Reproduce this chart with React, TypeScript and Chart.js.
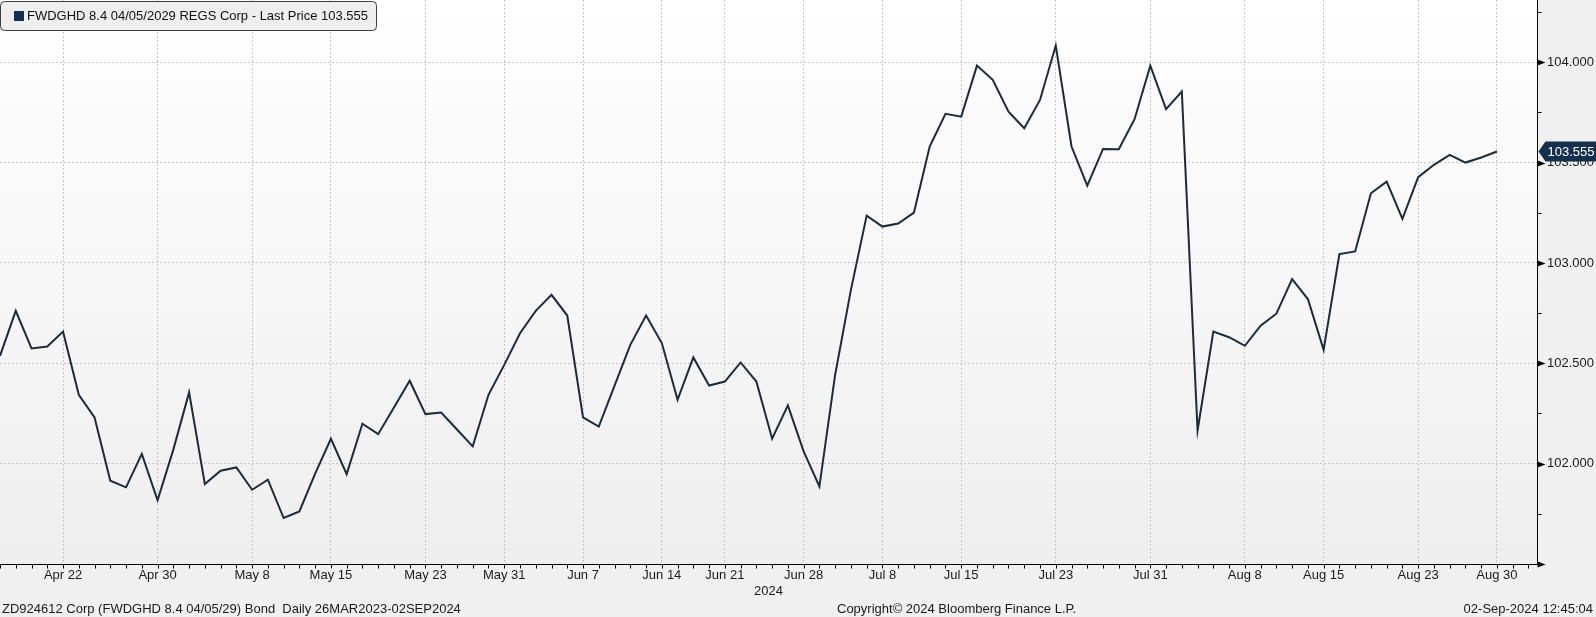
import React, { useEffect, useRef } from 'react';
import { Chart, registerables } from 'chart.js';

Chart.register(...registerables);

// ---- data ----
const dates = [
  'Apr 16', 'Apr 17', 'Apr 18', 'Apr 19', 'Apr 22', 'Apr 23', 'Apr 24', 'Apr 25', 'Apr 26', 'Apr 29', 'Apr 30',
  'May 1', 'May 2', 'May 3', 'May 6', 'May 7', 'May 8', 'May 9', 'May 10', 'May 13', 'May 14', 'May 15', 'May 16',
  'May 17', 'May 20', 'May 21', 'May 22', 'May 23', 'May 24', 'May 28', 'May 29', 'May 30', 'May 31',
  'Jun 3', 'Jun 4', 'Jun 5', 'Jun 6', 'Jun 7', 'Jun 10', 'Jun 11', 'Jun 12', 'Jun 13', 'Jun 14', 'Jun 17', 'Jun 18',
  'Jun 20', 'Jun 21', 'Jun 24', 'Jun 25', 'Jun 26', 'Jun 27', 'Jun 28',
  'Jul 1', 'Jul 2', 'Jul 3', 'Jul 5', 'Jul 8', 'Jul 9', 'Jul 10', 'Jul 11', 'Jul 12', 'Jul 15', 'Jul 16', 'Jul 17',
  'Jul 18', 'Jul 19', 'Jul 22', 'Jul 23', 'Jul 24', 'Jul 25', 'Jul 26', 'Jul 29', 'Jul 30', 'Jul 31',
  'Aug 1', 'Aug 2', 'Aug 5', 'Aug 6', 'Aug 7', 'Aug 8', 'Aug 9', 'Aug 12', 'Aug 13', 'Aug 14', 'Aug 15', 'Aug 16',
  'Aug 19', 'Aug 20', 'Aug 21', 'Aug 22', 'Aug 23', 'Aug 26', 'Aug 27', 'Aug 28', 'Aug 29', 'Aug 30',
];

const prices = [
  102.537, 102.761, 102.574, 102.584, 102.658, 102.343, 102.230, 101.915, 101.882, 102.049, 101.817,
  102.070, 102.355, 101.898, 101.965, 101.981, 101.870, 101.920, 101.729, 101.762, 101.950, 102.124, 101.948,
  102.199, 102.147, 102.280, 102.413, 102.247, 102.255, 102.170, 102.086, 102.343, 102.492,
  102.650, 102.761, 102.841, 102.738, 102.230, 102.185, 102.389, 102.592, 102.738, 102.601, 102.318, 102.529,
  102.389, 102.409, 102.504, 102.409, 102.124, 102.290, 102.061,
  101.886, 102.443, 102.866, 103.236, 103.181, 103.196, 103.251, 103.580, 103.743, 103.729, 103.983, 103.912,
  103.754, 103.671, 103.812, 104.083, 103.580, 103.385, 103.568, 103.567, 103.716, 103.983,
  103.766, 103.854, 102.165, 102.658, 102.630, 102.587, 102.687, 102.747, 102.919, 102.820, 102.567, 103.044,
  103.057, 103.347, 103.405, 103.220, 103.427, 103.489, 103.538, 103.500, 103.525, 103.555,
];

const xTickLabels = [
  'Apr 22', 'Apr 30', 'May 8', 'May 15', 'May 23', 'May 31', 'Jun 7', 'Jun 14', 'Jun 21',
  'Jun 28', 'Jul 8', 'Jul 15', 'Jul 23', 'Jul 31', 'Aug 8', 'Aug 15', 'Aug 23', 'Aug 30',
];
const yTickValues = [102, 102.5, 103, 103.5, 104];
const yMinorStep = 0.25;
const yMin = 101.5;
const yMax = 104.31;
const xPadAfter = 2.54; // empty trading days to the axis end (through 02SEP2024)

const seriesTitle = 'FWDGHD 8.4 04/05/2029 REGS Corp';
const yearLabel = '2024';
const footerLeft = 'ZD924612 Corp (FWDGHD 8.4 04/05/29) Bond  Daily 26MAR2023-02SEP2024';
const footerCenter = 'Copyright\u00A9 2024 Bloomberg Finance L.P.';
const footerRight = '02-Sep-2024 12:45:04';

const FONT = '"Liberation Sans", Arial, sans-serif';
const LINE_COLOR = '#1b2b3c';
const TAG_COLOR = '#15304f';

const bbgPlugin = {
  id: 'bbg',
  beforeDraw(chart: any) {
    const { ctx, chartArea: a, width, height } = chart;
    ctx.save();
    ctx.fillStyle = '#f0f0f0';
    ctx.fillRect(0, 0, width, height);
    const g = ctx.createLinearGradient(0, a.top, 0, a.bottom);
    g.addColorStop(0, '#ffffff');
    g.addColorStop(1, '#eeeeee');
    ctx.fillStyle = g;
    ctx.fillRect(a.left, a.top, a.right - a.left, a.bottom - a.top);
    ctx.restore();
  },
  afterDraw(chart: any) {
    const { ctx, chartArea: a, width } = chart;
    const x = chart.scales.x;
    const y = chart.scales.y;
    ctx.save();
    const bx = Math.round(a.right) + 0.5;
    const by = Math.round(a.bottom) + 0.5;
    ctx.strokeStyle = '#000';
    ctx.lineWidth = 1;
    ctx.beginPath();
    ctx.moveTo(a.left, by);
    ctx.lineTo(bx, by);
    ctx.moveTo(bx, a.top);
    ctx.lineTo(bx, by);
    ctx.stroke();

    // daily tick marks on x axis
    ctx.beginPath();
    for (let i = 0; i <= Math.floor(x.max); i++) {
      const px = Math.round(x.getPixelForValue(i)) + 0.5;
      ctx.moveTo(px, by);
      ctx.lineTo(px, by + 4);
    }
    ctx.stroke();

    // y axis ticks: arrows at majors, small marks at minors
    ctx.fillStyle = '#000';
    const nSteps = Math.floor((yMax - yMin) / yMinorStep + 1e-9);
    for (let k = 0; k <= nSteps; k++) {
      const v = yMin + k * yMinorStep;
      const py = Math.round(y.getPixelForValue(v)) + 0.5;
      if (k % 2 === 0) {
        ctx.beginPath();
        ctx.moveTo(bx, py - 3);
        ctx.lineTo(bx + 8, py);
        ctx.lineTo(bx, py + 3);
        ctx.closePath();
        ctx.fill();
      } else {
        ctx.beginPath();
        ctx.moveTo(bx, py);
        ctx.lineTo(bx + 4, py);
        ctx.stroke();
      }
    }

    // last price tag
    const last = prices[prices.length - 1];
    const ty = y.getPixelForValue(last);
    ctx.fillStyle = TAG_COLOR;
    ctx.beginPath();
    ctx.moveTo(bx + 1, ty);
    ctx.lineTo(bx + 8, ty - 10);
    ctx.lineTo(width, ty - 10);
    ctx.lineTo(width, ty + 10);
    ctx.lineTo(bx + 8, ty + 10);
    ctx.closePath();
    ctx.fill();
    ctx.fillStyle = '#ffffff';
    ctx.font = `13px ${FONT}`;
    ctx.textBaseline = 'middle';
    ctx.textAlign = 'left';
    ctx.fillText(last.toFixed(3), bx + 10, ty + 0.5);

    // legend box
    const legendText = `${seriesTitle} - Last Price ${last.toFixed(3)}`;
    ctx.font = `13px ${FONT}`;
    const tw = ctx.measureText(legendText).width;
    const lx = 0.5, ly = 1.5, lw = 26 + tw + 9, lh = 29, r = 4;
    ctx.beginPath();
    ctx.moveTo(lx + r, ly);
    ctx.lineTo(lx + lw - r, ly);
    ctx.quadraticCurveTo(lx + lw, ly, lx + lw, ly + r);
    ctx.lineTo(lx + lw, ly + lh - r);
    ctx.quadraticCurveTo(lx + lw, ly + lh, lx + lw - r, ly + lh);
    ctx.lineTo(lx + r, ly + lh);
    ctx.quadraticCurveTo(lx, ly + lh, lx, ly + lh - r);
    ctx.lineTo(lx, ly + r);
    ctx.quadraticCurveTo(lx, ly, lx + r, ly);
    ctx.closePath();
    ctx.fillStyle = '#eeeeee';
    ctx.fill();
    ctx.strokeStyle = '#3c3c3c';
    ctx.stroke();
    ctx.fillStyle = TAG_COLOR;
    ctx.fillRect(14, 11, 10, 10);
    ctx.fillStyle = '#111111';
    ctx.fillText(legendText, 27, 16.5);

    // year label + footer
    ctx.fillStyle = '#1a1a1a';
    ctx.textAlign = 'center';
    ctx.fillText(yearLabel, (a.left + a.right) / 2, 591);
    ctx.textAlign = 'left';
    ctx.fillText(footerLeft, 2, 609);
    ctx.fillText(footerCenter, 837, 609);
    ctx.textAlign = 'right';
    ctx.fillText(footerRight, 1593, 609);
    ctx.restore();
  },
};

export default function App() {
  const canvasRef = useRef<HTMLCanvasElement | null>(null);

  useEffect(() => {
    document.body.style.margin = '0';
    const canvas = canvasRef.current;
    if (!canvas) return;
    Chart.defaults.font.family = FONT;
    Chart.defaults.font.size = 13;
    Chart.defaults.color = '#1a1a1a';

    const chart = new Chart(canvas, {
      type: 'line',
      data: {
        datasets: [
          {
            label: seriesTitle,
            data: prices.map((p, i) => ({ x: i, y: p })),
            borderColor: LINE_COLOR,
            borderWidth: 2,
            pointRadius: 0,
            tension: 0,
            fill: false,
          },
        ],
      },
      options: {
        responsive: false,
        animation: false,
        devicePixelRatio: 1,
        layout: { padding: 0 },
        plugins: { legend: { display: false }, tooltip: { enabled: false } },
        scales: {
          x: {
            type: 'linear',
            min: 0,
            max: dates.length - 1 + xPadAfter,
            afterBuildTicks: (scale: any) => {
              scale.ticks = xTickLabels.map((d) => ({ value: dates.indexOf(d) }));
            },
            afterFit: (scale: any) => {
              scale.height = 53;
              scale.paddingLeft = 0;
              scale.paddingRight = 0;
              scale.paddingTop = 0;
              scale.paddingBottom = 0;
            },
            ticks: {
              autoSkip: false,
              maxRotation: 0,
              padding: 4,
              color: '#1a1a1a',
              callback: (v: any) => dates[Math.round(Number(v))] ?? '',
            },
            grid: {
              color: '#c6c6c6',
              lineWidth: 1,
              drawTicks: false,
            },
            border: { display: false, dash: [2, 2] },
          },
          y: {
            type: 'linear',
            position: 'right',
            min: yMin,
            max: yMax,
            afterBuildTicks: (scale: any) => {
              scale.ticks = yTickValues.map((v) => ({ value: v }));
            },
            afterFit: (scale: any) => {
              scale.width = 59;
              scale.paddingLeft = 0;
              scale.paddingRight = 0;
              scale.paddingTop = 0;
              scale.paddingBottom = 0;
            },
            ticks: {
              padding: 10,
              color: '#1a1a1a',
              callback: (v: any) => Number(v).toFixed(3),
            },
            grid: {
              color: '#c6c6c6',
              lineWidth: 1,
              drawTicks: false,
            },
            border: { display: false, dash: [2, 2] },
          },
        },
      },
      plugins: [bbgPlugin],
    } as any);

    return () => chart.destroy();
  }, []);

  return (
    <div style={{ width: 1596, height: 617 }}>
      <canvas ref={canvasRef} width={1596} height={617} style={{ display: 'block' }} />
    </div>
  );
}
